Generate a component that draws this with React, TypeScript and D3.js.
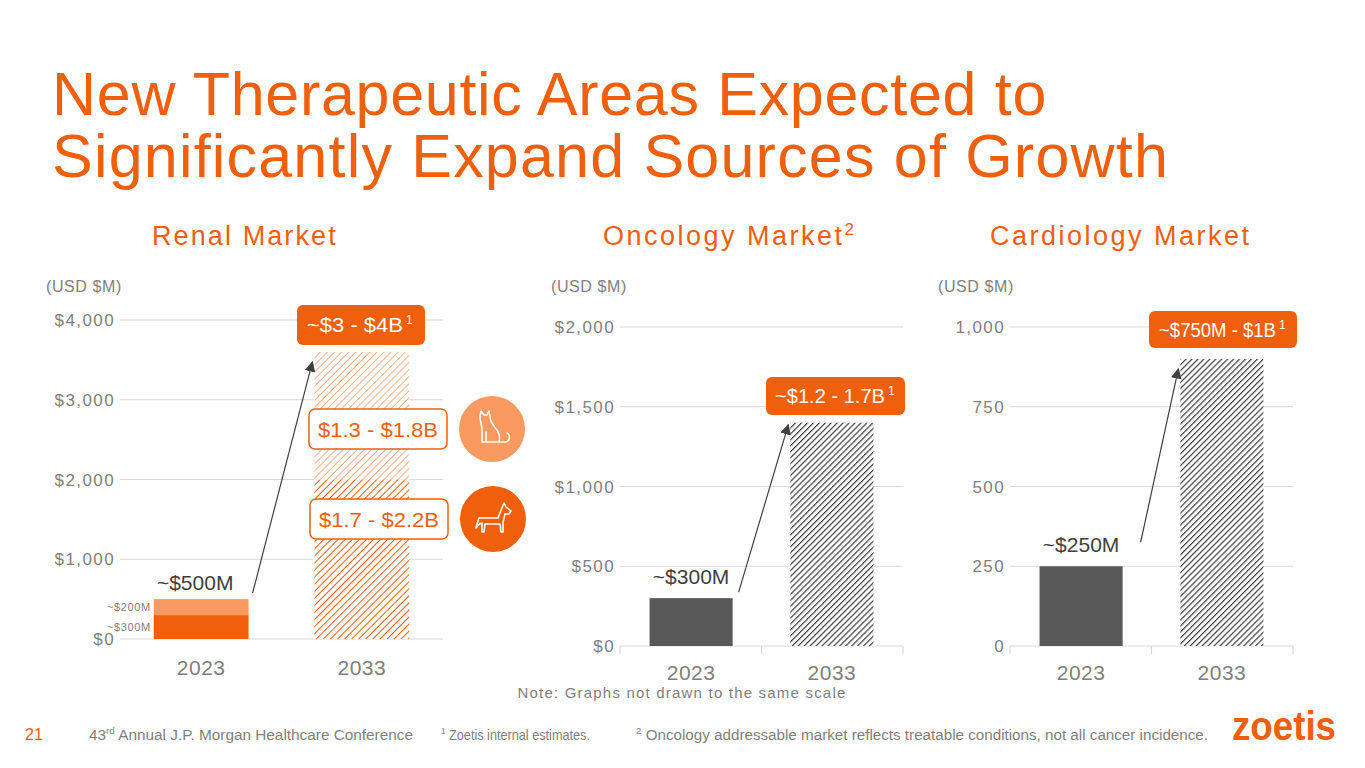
import React from 'react';
import * as d3 from 'd3';

// chart data
const years = ['2023', '2033'];
const renalDog = [300, 2000];
const renalCat = [200, 1600];
const oncologyValues = [300, 1400];
const cardiologyValues = [250, 900];
const renalTicks = [0, 1000, 2000, 3000, 4000];
const oncologyTicks = [0, 500, 1000, 1500, 2000];
const cardiologyTicks = [0, 250, 500, 750, 1000];

const ORANGE = '#f0600c';
const LIGHT = '#fa9a60';
const GRAY = '#7f7f7f';
const FONT = '"Liberation Sans", Arial, sans-serif';

const money = (d: number) => (d === 0 ? '$0' : '$' + d3.format(',')(d));
const plain = (d: number) => d3.format(',')(d);

const makeX = (x0: number, x1: number) =>
  d3.scaleBand<string>().domain(years).range([x0, x1]).paddingInner(0.41).paddingOuter(0.21);

const Grid: React.FC<{
  x: d3.ScaleBand<string>;
  y: d3.ScaleLinear<number, number>;
  ticks: number[];
  fmt: (d: number) => string;
  catY: number;
  axisTicks?: boolean;
}> = ({ x, y, ticks, fmt, catY, axisTicks }) => {
  const [r0, r1] = x.range();
  return (
    <g>
      {ticks.map((t) => (
        <g key={t}>
          <line x1={r0} x2={r1} y1={y(t)} y2={y(t)} stroke="#d9d9d9" strokeWidth={1.2} />
          <text x={r0 - 5} y={y(t) + 6} textAnchor="end" fontSize={17} fill={GRAY} fontFamily={FONT} letterSpacing={1.4}>
            {fmt(t)}
          </text>
        </g>
      ))}
      {axisTicks &&
        [r0, (r0 + r1) / 2, r1].map((p) => (
          <line key={p} x1={p} x2={p} y1={y(0)} y2={y(0) + 8} stroke="#d9d9d9" strokeWidth={1.2} />
        ))}
      {years.map((c) => (
        <text key={c} x={x(c)! + x.bandwidth() / 2} y={catY} textAnchor="middle" fontSize={21} fill={GRAY} fontFamily={FONT} letterSpacing={0.5}>
          {c}
        </text>
      ))}
    </g>
  );
};

const Arrow: React.FC<{ x1: number; y1: number; x2: number; y2: number }> = ({ x1, y1, x2, y2 }) => (
  <line x1={x1} y1={y1} x2={x2} y2={y2} stroke="#404040" strokeWidth={1.2} markerEnd="url(#arrowHead)" />
);

const Callout: React.FC<{ x: number; y: number; w: number; h: number; label: string; tx: number; tl: number }> = ({ x, y, w, h, label, tx, tl }) => (
  <g>
    <rect x={x} y={y} width={w} height={h} rx={6} fill={ORANGE} />
    <text x={tx} y={y + h / 2 + 7} fontSize={20} fill="#fff" fontFamily={FONT}
      textLength={tl} lengthAdjust="spacingAndGlyphs">
      {label}
    </text>
    <text x={tx + tl + 3} y={y + h / 2 - 1} fontSize={12} fill="#fff" fontFamily={FONT}>1</text>
  </g>
);

const App: React.FC = () => {
  // Renal panel
  const rx = makeX(120, 443);
  const ry = d3.scaleLinear().domain([0, 4000]).range([639, 320]);
  // Oncology panel
  const ox = makeX(620, 903);
  const oy = d3.scaleLinear().domain([0, 2000]).range([646, 327]);
  // Cardiology panel
  const cx = makeX(1010, 1293);
  const cy = d3.scaleLinear().domain([0, 1000]).range([646, 327]);

  const rbw = rx.bandwidth();
  const obw = ox.bandwidth();
  const cbw = cx.bandwidth();

  const renalTotal = renalDog.map((d, i) => d + renalCat[i]);

  return (
    <svg width={1365} height={768} style={{ position: 'absolute', left: 0, top: 0, background: '#fff' }}>
      <defs>
        <pattern id="hatchGray" width={4.2} height={4.2} patternUnits="userSpaceOnUse" patternTransform="rotate(45)">
          <rect width={4.2} height={4.2} fill="#fff" />
          <line x1={0} y1={0} x2={0} y2={4.2} stroke="#3f3f3f" strokeWidth={2.4} />
        </pattern>
        <pattern id="hatchDark" width={5} height={5} patternUnits="userSpaceOnUse" patternTransform="rotate(45)">
          <rect width={5} height={5} fill="#fff" />
          <line x1={0} y1={0} x2={0} y2={5} stroke={ORANGE} strokeWidth={2} />
        </pattern>
        <pattern id="hatchLight" width={5} height={5} patternUnits="userSpaceOnUse" patternTransform="rotate(45)">
          <rect width={5} height={5} fill="#fff" />
          <line x1={0} y1={0} x2={0} y2={5} stroke="#f8b08a" strokeWidth={2} />
        </pattern>
        <marker id="arrowHead" viewBox="0 0 10 10" refX={9} refY={5} markerWidth={9} markerHeight={9} orient="auto">
          <path d="M0,0 L10,5 L0,10 Z" fill="#404040" />
        </marker>
      </defs>

      {/* title */}
      <g fill={ORANGE} fontFamily={FONT} fontSize={61}>
        <text x={52} y={115} letterSpacing={0.7}>New Therapeutic Areas Expected to</text>
        <text x={52} y={177} letterSpacing={1.2}>Significantly Expand Sources of Growth</text>
      </g>

      {/* panel titles */}
      <g fill={ORANGE} fontFamily={FONT} fontSize={27} letterSpacing={2.1}>
        <text x={152} y={245}>Renal Market</text>
        <text x={603} y={245} letterSpacing={2.5}>Oncology Market<tspan fontSize={17} dy={-10}>2</tspan></text>
        <text x={990} y={245} letterSpacing={2.5}>Cardiology Market</text>
      </g>
      <g fill={GRAY} fontFamily={FONT} fontSize={16} letterSpacing={0.6}>
        <text x={46} y={292}>(USD $M)</text>
        <text x={551} y={292}>(USD $M)</text>
        <text x={938} y={292}>(USD $M)</text>
      </g>

      {/* Renal */}
      <Grid x={rx} y={ry} ticks={renalTicks} fmt={money} catY={675} />
      <rect x={rx('2023')} y={ry(renalDog[0])} width={rbw} height={ry(0) - ry(renalDog[0])} fill={ORANGE} />
      <rect x={rx('2023')} y={ry(renalTotal[0])} width={rbw} height={ry(renalDog[0]) - ry(renalTotal[0])} fill={LIGHT} />
      <rect x={rx('2033')} y={ry(renalDog[1])} width={rbw} height={ry(0) - ry(renalDog[1])} fill="url(#hatchDark)" />
      <rect x={rx('2033')} y={ry(renalTotal[1])} width={rbw} height={ry(renalDog[1]) - ry(renalTotal[1])} fill="url(#hatchLight)" />
      <text x={rx('2023')! + rbw / 2 - 6} y={ry(renalTotal[0]) - 9} textAnchor="middle" fontSize={21} fill="#404040" fontFamily={FONT}>~$500M</text>
      <text x={rx('2023')! - 3} y={ry(renalDog[0] + renalCat[0] / 2) + 4} textAnchor="end" fontSize={11} fill={GRAY} fontFamily={FONT} letterSpacing={0.6}>~$200M</text>
      <text x={rx('2023')! - 3} y={ry(renalDog[0] / 2) + 4} textAnchor="end" fontSize={11} fill={GRAY} fontFamily={FONT} letterSpacing={0.6}>~$300M</text>
      <Arrow x1={rx('2023')! + rbw + 4} y1={ry(renalTotal[0]) - 6} x2={rx('2033')! - 2} y2={ry(renalTotal[1]) + 10} />
      <Callout x={297} y={305} w={128} h={40} label="~$3 - $4B" tx={307} tl={96} />
      <g fontFamily={FONT} fontSize={21} fill={ORANGE}>
        <rect x={309} y={409} width={138} height={40} rx={6} fill="#fff" stroke={ORANGE} strokeWidth={1.5} />
        <text x={378} y={437} textAnchor="middle" textLength={120} lengthAdjust="spacingAndGlyphs">$1.3 - $1.8B</text>
        <rect x={310} y={499} width={138} height={40} rx={6} fill="#fff" stroke={ORANGE} strokeWidth={1.5} />
        <text x={379} y={527} textAnchor="middle" textLength={120} lengthAdjust="spacingAndGlyphs">$1.7 - $2.2B</text>
      </g>
      {/* cat icon */}
      <g transform="translate(492,429)">
        <circle r={33} fill={LIGHT} />
        <path
          d="M-10,13 L-10,2 C-10,-5 -12,-8 -12,-12 L-11,-18 L-8,-14 L-5,-14 L-3,-18 L-2,-12 C-2,-7 2,-3 5,1 C8,5 8,9 7,13 Z M7,13 L13,13 C18,13 19,6 15,4 M-6,13 L-6,3"
          fill="none" stroke="#fff" strokeWidth={1.6} strokeLinejoin="round" strokeLinecap="round" />
      </g>
      {/* dog icon */}
      <g transform="translate(493,519)">
        <circle r={33} fill={ORANGE} />
        <path
          d="M-14,-1 L5,-1 L9,-11 L11,-16 L13,-12 L18,-8 L16,-5 L12,-5 L10,3 L10,13 L8,13 L7,5 L-8,5 L-9,13 L-11,13 L-11,4 C-14,4 -15,7 -17,9 C-16,5 -15,2 -14,-1 Z"
          fill="none" stroke="#fff" strokeWidth={1.6} strokeLinejoin="round" />
      </g>

      {/* Oncology */}
      <Grid x={ox} y={oy} ticks={oncologyTicks} fmt={money} catY={680} axisTicks />
      <rect x={ox('2023')} y={oy(oncologyValues[0])} width={obw} height={oy(0) - oy(oncologyValues[0])} fill="#595959" />
      <rect x={ox('2033')} y={oy(oncologyValues[1])} width={obw} height={oy(0) - oy(oncologyValues[1])} fill="url(#hatchGray)" />
      <text x={ox('2023')! + obw / 2} y={oy(oncologyValues[0]) - 14} textAnchor="middle" fontSize={21} fill="#404040" fontFamily={FONT}>~$300M</text>
      <Arrow x1={ox('2023')! + obw + 6} y1={oy(oncologyValues[0]) - 6} x2={ox('2033')! - 2} y2={oy(oncologyValues[1]) + 2} />
      <Callout x={766} y={377} w={139} h={38} label="~$1.2 - 1.7B" tx={775} tl={110} />

      {/* Cardiology */}
      <Grid x={cx} y={cy} ticks={cardiologyTicks} fmt={plain} catY={680} axisTicks />
      <rect x={cx('2023')} y={cy(cardiologyValues[0])} width={cbw} height={cy(0) - cy(cardiologyValues[0])} fill="#595959" />
      <rect x={cx('2033')} y={cy(cardiologyValues[1])} width={cbw} height={cy(0) - cy(cardiologyValues[1])} fill="url(#hatchGray)" />
      <text x={cx('2023')! + cbw / 2} y={cy(cardiologyValues[0]) - 14} textAnchor="middle" fontSize={21} fill="#404040" fontFamily={FONT}>~$250M</text>
      <Arrow x1={cx('2023')! + cbw + 18} y1={cy(cardiologyValues[0]) - 24} x2={cx('2033')! - 2} y2={cy(cardiologyValues[1]) + 10} />
      <Callout x={1149} y={311} w={148} h={37} label="~$750M - $1B" tx={1159} tl={117} />

      {/* notes and footer */}
      <text x={682} y={698} textAnchor="middle" fontSize={15} fill={GRAY} fontFamily={FONT} letterSpacing={1.2}>Note: Graphs not drawn to the same scale</text>
      <text x={25} y={740} fontSize={16} fill={ORANGE} fontFamily={FONT}>21</text>
      <g fill={GRAY} fontFamily={FONT} fontSize={14}>
        <text x={89} y={740} textLength={324} lengthAdjust="spacingAndGlyphs">43<tspan fontSize={9} dy={-6}>rd</tspan><tspan dy={6}> Annual J.P. Morgan Healthcare Conference</tspan></text>
        <text x={441} y={740} textLength={149} lengthAdjust="spacingAndGlyphs"><tspan fontSize={9} dy={-6}>1</tspan><tspan dy={6}> Zoetis internal estimates.</tspan></text>
        <text x={636} y={740} textLength={572} lengthAdjust="spacingAndGlyphs"><tspan fontSize={9} dy={-6}>2</tspan><tspan dy={6}> Oncology addressable market reflects treatable conditions, not all cancer incidence.</tspan></text>
      </g>
      <text x={1232} y={740} fontSize={40} fontWeight="bold" fill={ORANGE} fontFamily={FONT} textLength={104} lengthAdjust="spacingAndGlyphs">zoetis</text>
    </svg>
  );
};

export default App;
